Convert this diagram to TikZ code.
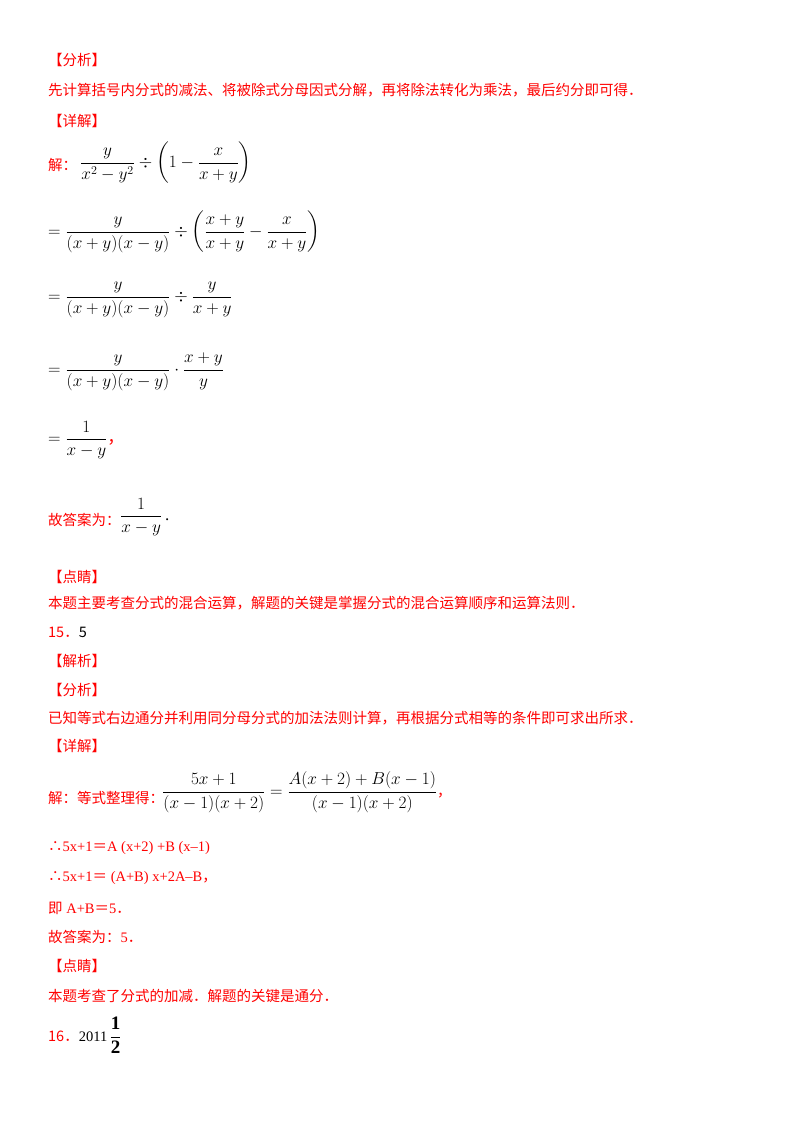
\documentclass[tikz,border=0pt]{standalone}
\usepackage{amsmath}
\usepackage{fontspec}
\setmainfont{Liberation Serif}
\newfontfamily\cjk{Noto Sans CJK SC}
\definecolor{rd}{HTML}{FF0000}
\begin{document}
\begin{tikzpicture}[x=1pt,y=-1pt,
  every node/.style={anchor=west,inner sep=0pt,font=\fontsize{14.5}{16}\selectfont},
  red/.style={text=rd},
  blk/.style={text=black,font=\fontsize{17}{19}\selectfont}]
\useasboundingbox[fill=white] (0,0) rectangle (800,1132);
\node[red] (a1) at (48,60) {\cjk 【分析】};
\node[red] (a2) at (48,90) {\cjk 先计算括号内分式的减法、将被除式分母因式分解，再将除法转化为乘法，最后约分即可得．};
\node[red] (a3) at (48,121) {\cjk 【详解】};
\node[red] (s0) at (48,165) {\cjk 解：};
\node[blk] (s1) at (80,163) {$\dfrac{y}{x^2-y^2}\div\left(1-\dfrac{x}{x+y}\right)$};
\node[blk] (s2) at (48,232) {$=\dfrac{y}{(x+y)(x-y)}\div\left(\dfrac{x+y}{x+y}-\dfrac{x}{x+y}\right)$};
\node[blk] (s3) at (48,300) {$=\dfrac{y}{(x+y)(x-y)}\div\dfrac{y}{x+y}$};
\node[blk] (s4) at (48,372) {$=\dfrac{y}{(x+y)(x-y)}\cdot\dfrac{x+y}{y}$};
\node[blk] (s5) at (48,440) {$=\dfrac{1}{x-y}$\textcolor{rd}{\cjk ，}};
\node[red] (g0) at (48,520) {\cjk 故答案为：};
\node[blk] (g1) at (120,517) {$\dfrac{1}{x-y}$\,.};
\node[red] (d1) at (48,577) {\cjk 【点睛】};
\node[red] (d2) at (48,603) {\cjk 本题主要考查分式的混合运算，解题的关键是掌握分式的混合运算顺序和运算法则．};
\node[red] (q15) at (48,632) {\cjk 15．\textcolor{black}{5}};
\node[red] (j1) at (48,661) {\cjk 【解析】};
\node[red] (j2) at (48,690) {\cjk 【分析】};
\node[red] (j3) at (48,718) {\cjk 已知等式右边通分并利用同分母分式的加法法则计算，再根据分式相等的条件即可求出所求．};
\node[red] (j4) at (48,746) {\cjk 【详解】};
\node[red] (e0) at (48,798) {\cjk 解：等式整理得：};
\node[blk] (e1) at (162,792) {$\dfrac{5x+1}{(x-1)(x+2)}=\dfrac{A(x+2)+B(x-1)}{(x-1)(x+2)}$\textcolor{rd}{\fontsize{14.5}{16}\selectfont\cjk ，}};
\node[red] (t1) at (48,848) {{\cjk ∴}5x+1{\cjk ＝}A (x+2) +B (x–1)};
\node[red] (t2) at (48,878) {{\cjk ∴}5x+1{\cjk ＝} (A+B) x+2A–B{\cjk ，}};
\node[red] (t3) at (48,908) {{\cjk 即} A+B{\cjk ＝}5{\cjk ．}};
\node[red] (t4) at (48,937) {{\cjk 故答案为：}5{\cjk ．}};
\node[red] (t5) at (48,966) {\cjk 【点睛】};
\node[red] (t6) at (48,996) {\cjk 本题考查了分式的加减．解题的关键是通分．};
\node[red] (q16) at (48,1035) {{\cjk 16．}\textcolor{black}{2011\,\fontsize{19}{21}\selectfont$\dfrac{\mathbf{1}}{\mathbf{2}}$}};
\end{tikzpicture}
\end{document}
